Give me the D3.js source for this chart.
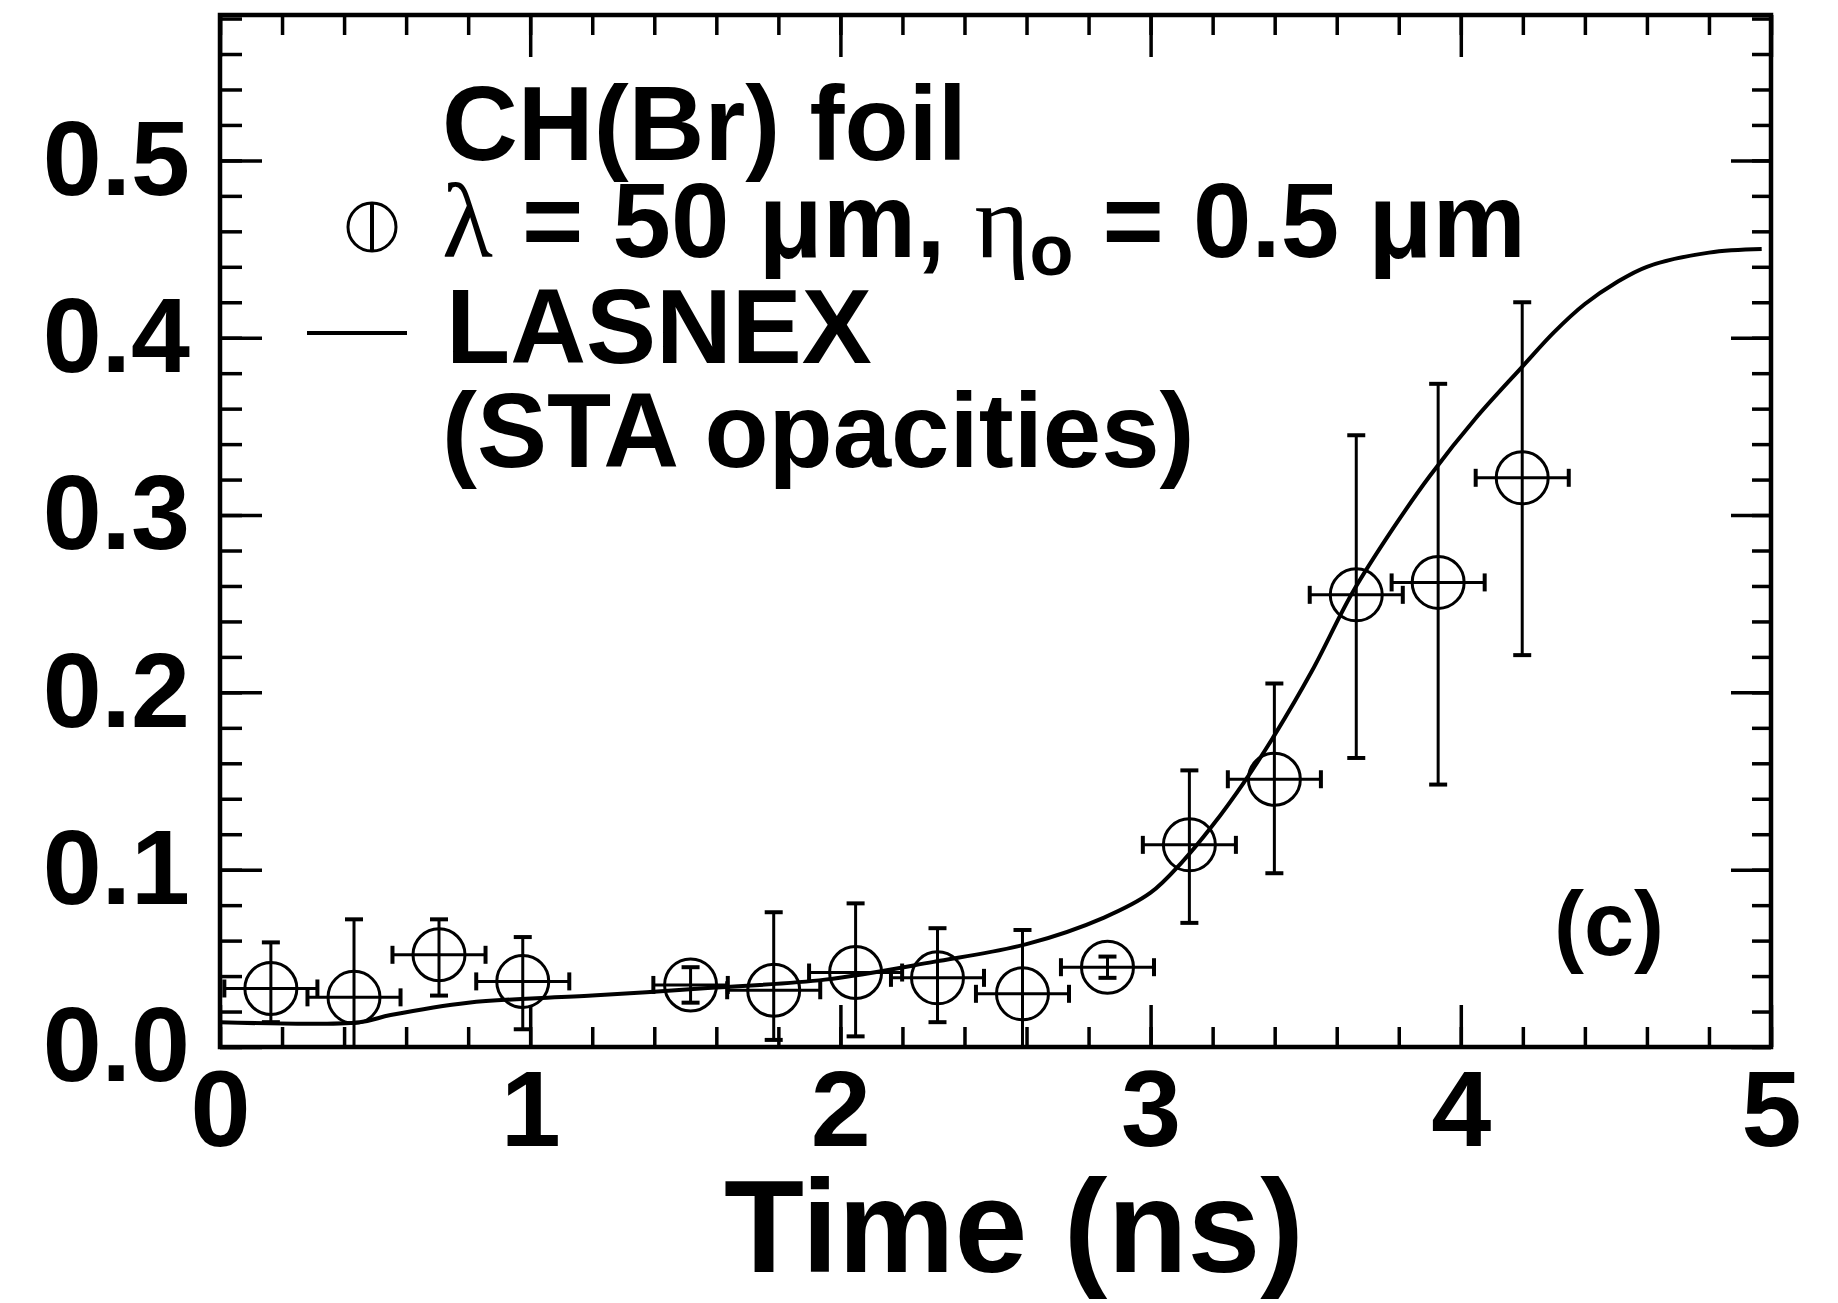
<!DOCTYPE html>
<html>
<head>
<meta charset="utf-8">
<script src="https://cdn.jsdelivr.net/npm/d3@7/dist/d3.min.js"></script>
<style>
  html, body { margin: 0; padding: 0; background: #fff; }
  svg { display: block; }
  text { font-family: "Liberation Sans", Arial, Helvetica, sans-serif; font-weight: bold; fill: #000; }
</style>
</head>
<body>
<svg id="chart" width="1838" height="1303"></svg>
<script>
// ---- data ----
const xTicks = [0, 1, 2, 3, 4, 5];
const yTicks = [0.0, 0.1, 0.2, 0.3, 0.4, 0.5];
const xMinorTicks = d3.range(0, 5.0001, 0.2);
const yMinorTicks = d3.range(0, 0.5801, 0.02);

const times     = [0.164, 0.432, 0.706, 0.976, 1.517, 1.785, 2.049, 2.313, 2.587, 2.861, 3.125, 3.399, 3.663, 3.927, 4.198];
const values    = [0.033, 0.028, 0.052, 0.037, 0.035, 0.032, 0.042, 0.039, 0.030, 0.045, 0.114, 0.151, 0.255, 0.262, 0.321];
const errHigh   = [0.059, 0.072, 0.072, 0.062, 0.045, 0.076, 0.081, 0.067, 0.066, 0.051, 0.156, 0.205, 0.345, 0.374, 0.420];
const errLow    = [0.014, 0.000, 0.029, 0.010, 0.025, 0.004, 0.006, 0.014, 0.000, 0.039, 0.070, 0.098, 0.163, 0.148, 0.221];
const timeErr   = [0.15, 0.15, 0.15, 0.15, 0.12, 0.15, 0.15, 0.15, 0.15, 0.15, 0.15, 0.15, 0.15, 0.15, 0.15];

const lasnexT = [0, 0.45, 0.55, 0.8, 1.2, 1.55, 1.95, 2.3, 2.6, 2.85, 3.0, 3.1, 3.2, 3.3, 3.4, 3.52, 3.65, 3.78, 3.9, 4.05, 4.2, 4.3, 4.4, 4.5, 4.6, 4.8, 4.97];
const lasnexV = [0.014, 0.014, 0.018, 0.025, 0.029, 0.033, 0.038, 0.048, 0.058, 0.073, 0.087, 0.104, 0.125, 0.149, 0.176, 0.212, 0.256, 0.292, 0.322, 0.355, 0.384, 0.403, 0.419, 0.431, 0.440, 0.448, 0.450];

const xLabel = "Time (ns)";
const panelLabel = "(c)";

// ---- layout ----
const L = 220, R = 1771, T = 15, B = 1047;
const svg = d3.select("#chart");
const x = d3.scaleLinear().domain([0, 5]).range([L, R]);
const y = d3.scaleLinear().domain([0, 0.582]).range([B, T]);

const ink = "#000";

// ---- axes ----
function styleAxis(g, fontSize) {
  g.select(".domain").remove();
  g.selectAll(".tick line").attr("stroke", ink).attr("stroke-width", 3.5);
  g.selectAll(".tick text").attr("font-size", fontSize).attr("font-family", '"Liberation Sans", Arial, sans-serif').attr("font-weight", "bold").attr("fill", ink);
}

// bottom
svg.append("g").attr("transform", `translate(0,${B})`)
  .call(d3.axisBottom(x).tickValues(xMinorTicks).tickSizeInner(-20).tickSizeOuter(0).tickFormat(""))
  .call(g => styleAxis(g, 0));
svg.append("g").attr("transform", `translate(0,${B})`)
  .call(d3.axisBottom(x).tickValues(xTicks).tickSizeInner(-42).tickSizeOuter(0).tickPadding(22).tickFormat(d3.format("d")))
  .call(g => styleAxis(g, 108));
// top
svg.append("g").attr("transform", `translate(0,${T})`)
  .call(d3.axisTop(x).tickValues(xMinorTicks).tickSizeInner(-20).tickSizeOuter(0).tickFormat(""))
  .call(g => styleAxis(g, 0));
svg.append("g").attr("transform", `translate(0,${T})`)
  .call(d3.axisTop(x).tickValues(xTicks).tickSizeInner(-42).tickSizeOuter(0).tickFormat(""))
  .call(g => styleAxis(g, 0));
// left
svg.append("g").attr("transform", `translate(${L},0)`)
  .call(d3.axisLeft(y).tickValues(yMinorTicks).tickSizeInner(-22).tickSizeOuter(0).tickFormat(""))
  .call(g => styleAxis(g, 0));
svg.append("g").attr("transform", `translate(${L},0)`)
  .call(d3.axisLeft(y).tickValues(yTicks).tickSizeInner(-42).tickSizeOuter(0).tickPadding(30).tickFormat(d3.format(".1f")))
  .call(g => styleAxis(g, 106));
// right
svg.append("g").attr("transform", `translate(${R},0)`)
  .call(d3.axisRight(y).tickValues(yMinorTicks).tickSizeInner(-19).tickSizeOuter(0).tickFormat(""))
  .call(g => styleAxis(g, 0));
svg.append("g").attr("transform", `translate(${R},0)`)
  .call(d3.axisRight(y).tickValues(yTicks).tickSizeInner(-40).tickSizeOuter(0).tickFormat(""))
  .call(g => styleAxis(g, 0));

// frame
svg.append("rect").attr("x", L).attr("y", T).attr("width", R - L).attr("height", B - T)
  .attr("fill", "none").attr("stroke", ink).attr("stroke-width", 4.5);

// x label
svg.append("text").attr("x", 1014).attr("y", 1272).attr("text-anchor", "middle")
  .attr("font-size", 131).text(xLabel);

// ---- LASNEX curve ----
const lasnex = lasnexT.map((t, i) => [t, lasnexV[i]]);
svg.append("path").datum(lasnex)
  .attr("fill", "none").attr("stroke", ink).attr("stroke-width", 4)
  .attr("d", d3.line().x(d => x(d[0])).y(d => y(d[1])).curve(d3.curveCatmullRom.alpha(0.5)));

// ---- data points with error bars ----
const pts = times.map((t, i) => ({ t, v: values[i], hi: errHigh[i], lo: errLow[i], dt: timeErr[i] }));
const gp = svg.append("g").attr("stroke", ink).attr("fill", "none").attr("stroke-width", 3);
const cap = 9;
pts.forEach(p => {
  const cx = x(p.t), cy = y(p.v);
  // vertical bar
  gp.append("line").attr("x1", cx).attr("x2", cx).attr("y1", y(p.hi)).attr("y2", y(p.lo));
  gp.append("line").attr("x1", cx - cap).attr("x2", cx + cap).attr("y1", y(p.hi)).attr("y2", y(p.hi)).attr("stroke-width", 4);
  gp.append("line").attr("x1", cx - cap).attr("x2", cx + cap).attr("y1", y(p.lo)).attr("y2", y(p.lo)).attr("stroke-width", 4);
  // horizontal bar
  const x0 = x(p.t - p.dt), x1 = x(p.t + p.dt);
  gp.append("line").attr("x1", x0).attr("x2", x1).attr("y1", cy).attr("y2", cy);
  gp.append("line").attr("x1", x0).attr("x2", x0).attr("y1", cy - cap).attr("y2", cy + cap).attr("stroke-width", 4);
  gp.append("line").attr("x1", x1).attr("x2", x1).attr("y1", cy - cap).attr("y2", cy + cap).attr("stroke-width", 4);
  // circle
  gp.append("circle").attr("cx", cx).attr("cy", cy).attr("r", 26);
});

// ---- legend ----
const lg = svg.append("g");
lg.append("text").attr("x", 442).attr("y", 160).attr("font-size", 105).text("CH(Br) foil");

// symbol: circle with vertical line
lg.append("circle").attr("cx", 372).attr("cy", 227).attr("r", 24).attr("fill", "none").attr("stroke", ink).attr("stroke-width", 3);
lg.append("line").attr("x1", 372).attr("x2", 372).attr("y1", 203).attr("y2", 252).attr("stroke", ink).attr("stroke-width", 4);

const t2 = lg.append("text").attr("x", 442).attr("y", 257).attr("font-size", 105);
t2.append("tspan").attr("font-family", '"Liberation Serif", "DejaVu Serif", serif').attr("font-weight", "normal").text("λ");
t2.append("tspan").text(" = 50 μm, ");
t2.append("tspan").attr("font-family", '"Liberation Serif", "DejaVu Serif", serif').attr("font-weight", "normal").text("η");
t2.append("tspan").attr("font-size", 72).attr("dy", 18).text("o");
t2.append("tspan").attr("dy", -18).text(" = 0.5 μm");

lg.append("line").attr("x1", 307).attr("x2", 407).attr("y1", 333).attr("y2", 333).attr("stroke", ink).attr("stroke-width", 4);
lg.append("text").attr("x", 446).attr("y", 363).attr("font-size", 105).text("LASNEX");
lg.append("text").attr("x", 442).attr("y", 467).attr("font-size", 105).text("(STA opacities)");

// panel label
svg.append("text").attr("x", 1609).attr("y", 955).attr("text-anchor", "middle").attr("font-size", 90).text(panelLabel);
</script>
</body>
</html>
